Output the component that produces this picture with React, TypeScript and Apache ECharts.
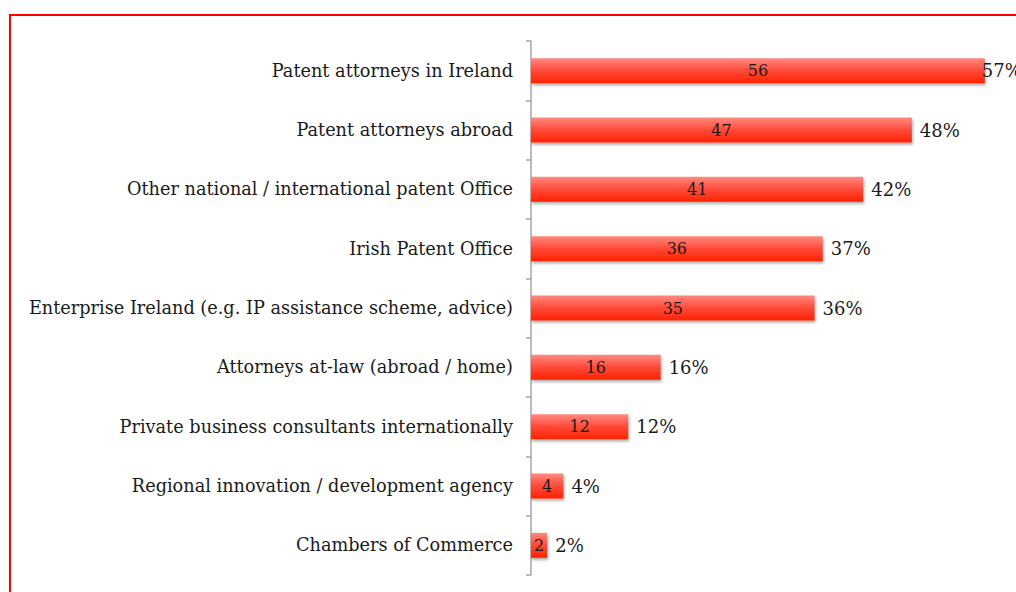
import React, { useEffect, useRef } from "react";
import * as echarts from "echarts";

const categories = [
  "Patent attorneys in Ireland",
  "Patent attorneys abroad",
  "Other national / international patent Office",
  "Irish Patent Office",
  "Enterprise Ireland (e.g. IP assistance scheme, advice)",
  "Attorneys at-law (abroad / home)",
  "Private business consultants internationally",
  "Regional innovation / development agency",
  "Chambers of Commerce",
];
const counts = [56, 47, 41, 36, 35, 16, 12, 4, 2];
const percents = [57, 48, 42, 37, 36, 16, 12, 4, 2];

const FONT = "'DejaVu Serif', Georgia, serif";

export default function App() {
  const ref = useRef<HTMLDivElement>(null);
  useEffect(() => {
    if (!ref.current) return;
    const chart = echarts.init(ref.current, undefined, { renderer: "svg" });
    const barGradient = new echarts.graphic.LinearGradient(0, 0, 0, 1, [
      { offset: 0, color: "#ff8a80" },
      { offset: 0.5, color: "#ff4a3a" },
      { offset: 1, color: "#ff2200" },
    ]);
    chart.setOption({
      animation: false,
      backgroundColor: "#ffffff",
      grid: { left: 531, right: 15, top: 41, bottom: 17, containLabel: false },
      xAxis: {
        type: "value",
        min: 0,
        max: 58,
        show: false,
      },
      yAxis: {
        type: "category",
        inverse: true,
        data: categories,
        axisLine: { show: true, lineStyle: { color: "#a6a6a6", width: 1.5 } },
        axisTick: { show: true, length: 5, lineStyle: { color: "#a6a6a6", width: 1.5 } },
        axisLabel: {
          margin: 18,
          fontFamily: FONT,
          fontSize: 17.7,
          color: "#1a1a1a",
        },
        splitLine: { show: false },
      },
      series: [
        {
          type: "bar",
          data: counts,
          barWidth: 25,
          itemStyle: {
            color: barGradient,
            shadowColor: "rgba(0,0,0,0.35)",
            shadowBlur: 3,
            shadowOffsetY: 2,
            shadowOffsetX: 1,
          },
          label: {
            show: true,
            position: "inside",
            fontFamily: FONT,
            fontSize: 16,
            color: "#1a1a1a",
          },
          z: 2,
        },
        {
          type: "bar",
          data: counts.map((v, i) =>
            i === 0
              ? { value: v, label: { distance: -3 } }
              : { value: v }
          ),
          barWidth: 25,
          barGap: "-100%",
          itemStyle: { color: "rgba(0,0,0,0)" },
          label: {
            show: true,
            position: "right",
            distance: 8,
            fontFamily: FONT,
            fontSize: 18,
            color: "#1a1a1a",
            formatter: (p: any) => percents[p.dataIndex] + "%",
          },
          silent: true,
          z: 3,
        },
      ],
      graphic: [
        {
          type: "rect",
          shape: { x: 10, y: 15, width: 1200, height: 800 },
          style: { fill: "none", stroke: "#ff0000", lineWidth: 2 },
          silent: true,
          z: 100,
        },
      ],
    });
    return () => chart.dispose();
  }, []);
  return (
    <div
      ref={ref}
      style={{ position: "fixed", left: 0, top: 0, width: 1016, height: 592 }}
    />
  );
}
